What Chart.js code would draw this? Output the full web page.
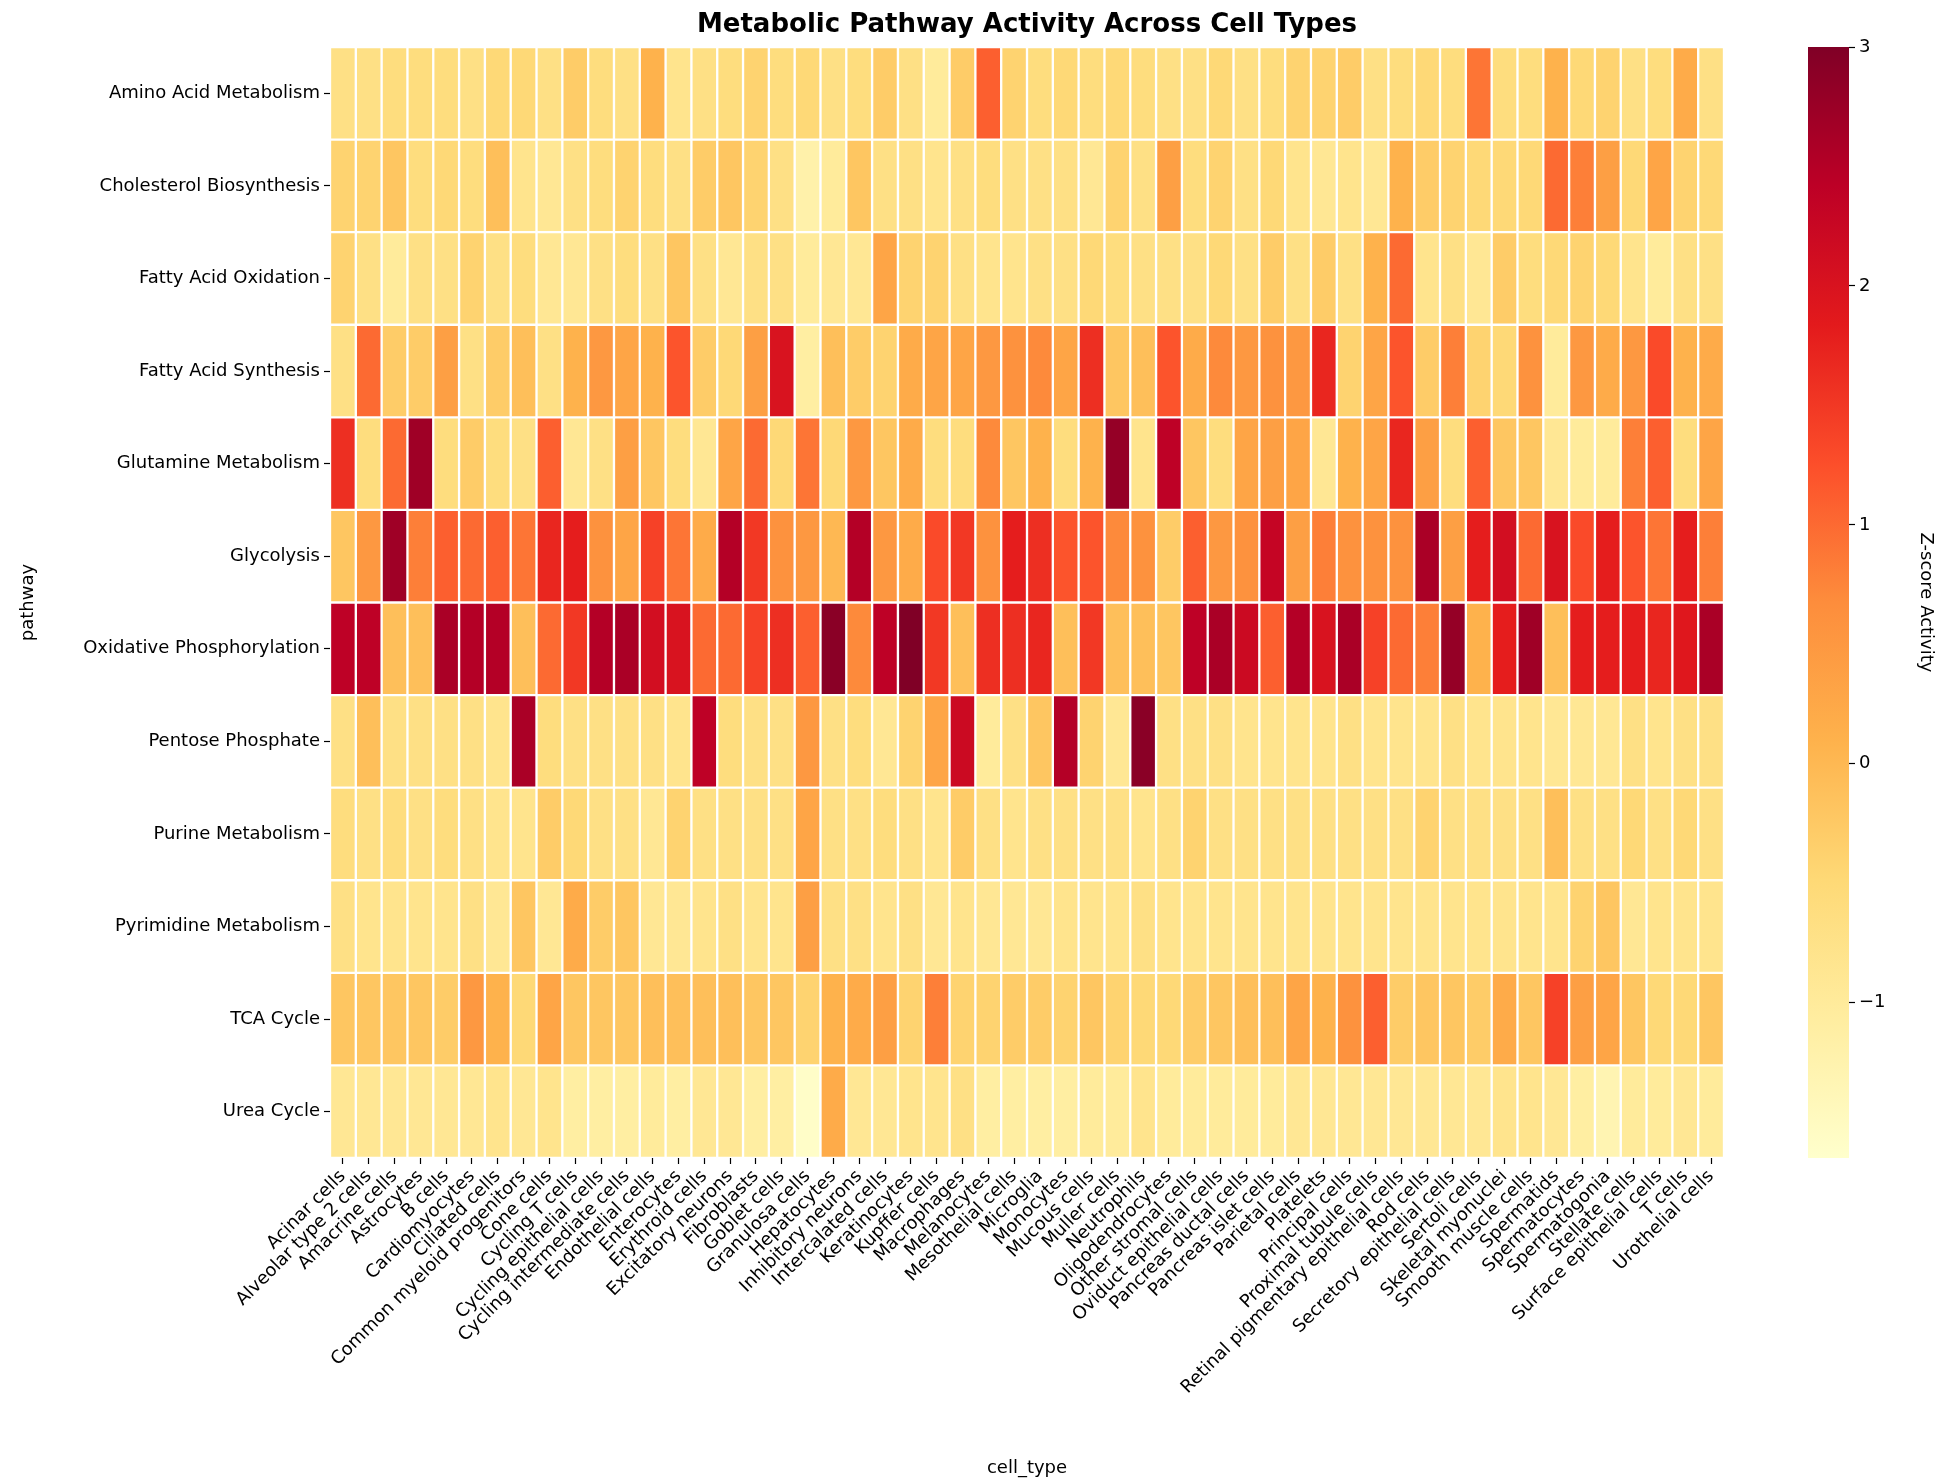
<!DOCTYPE html>
<html><head><meta charset="utf-8">
<script src="https://cdn.jsdelivr.net/npm/chart.js@4.4.0/dist/chart.umd.min.js"></script>
<style>html,body{margin:0;padding:0;background:#fff;width:1952px;height:1483px;overflow:hidden}
#c1{position:absolute;left:0;top:0}#c2{position:absolute;left:1790px;top:0}</style>
</head><body>
<canvas id="c1" width="1790" height="1483"></canvas>
<canvas id="c2" width="162" height="1483"></canvas>
<script>
const cellTypes=["Acinar cells","Alveolar type 2 cells","Amacrine cells","Astrocytes","B cells","Cardiomyocytes","Ciliated cells","Common myeloid progenitors","Cone cells","Cycling T cells","Cycling epithelial cells","Cycling intermediate cells","Endothelial cells","Enterocytes","Erythroid cells","Excitatory neurons","Fibroblasts","Goblet cells","Granulosa cells","Hepatocytes","Inhibitory neurons","Intercalated cells","Keratinocytes","Kupffer cells","Macrophages","Melanocytes","Mesothelial cells","Microglia","Monocytes","Mucous cells","Muller cells","Neutrophils","Oligodendrocytes","Other stromal cells","Oviduct epithelial cells","Pancreas ductal cells","Pancreas islet cells","Parietal cells","Platelets","Principal cells","Proximal tubule cells","Retinal pigmentary epithelial cells","Rod cells","Secretory epithelial cells","Sertoli cells","Skeletal myonuclei","Smooth muscle cells","Spermatids","Spermatocytes","Spermatogonia","Stellate cells","Surface epithelial cells","T cells","Urothelial cells"];
const pathways=["Amino Acid Metabolism","Cholesterol Biosynthesis","Fatty Acid Oxidation","Fatty Acid Synthesis","Glutamine Metabolism","Glycolysis","Oxidative Phosphorylation","Pentose Phosphate","Purine Metabolism","Pyrimidine Metabolism","TCA Cycle","Urea Cycle"];
const aminoAcid=[-0.7,-0.7,-0.6,-0.6,-0.6,-0.7,-0.5,-0.5,-0.7,-0.3,-0.6,-0.7,0.1,-0.8,-0.7,-0.6,-0.4,-0.6,-0.5,-0.7,-0.6,-0.3,-0.7,-1.0,-0.3,1.1,-0.4,-0.6,-0.5,-0.6,-0.5,-0.6,-0.7,-0.7,-0.5,-0.7,-0.6,-0.4,-0.4,-0.3,-0.7,-0.6,-0.5,-0.6,0.9,-0.6,-0.6,0.1,-0.5,-0.4,-0.7,-0.6,0.2,-0.7];
const cholesterol=[-0.4,-0.4,-0.2,-0.6,-0.5,-0.6,-0.1,-0.8,-0.9,-0.7,-0.6,-0.4,-0.6,-0.7,-0.3,-0.2,-0.4,-0.7,-1.2,-1.0,-0.2,-0.7,-0.7,-0.8,-0.7,-0.6,-0.7,-0.7,-0.7,-0.9,-0.4,-0.7,0.4,-0.6,-0.4,-0.7,-0.5,-0.8,-0.9,-0.8,-0.9,0.1,-0.3,-0.4,-0.5,-0.5,-0.5,1.0,0.8,0.4,-0.5,0.3,-0.4,-0.5];
const fattyOx=[-0.4,-0.7,-1.0,-0.7,-0.7,-0.4,-0.7,-0.6,-0.9,-0.9,-0.7,-0.6,-0.7,-0.2,-0.7,-0.9,-0.7,-0.7,-1.0,-0.9,-0.9,0.3,-0.4,-0.4,-0.7,-0.8,-0.8,-0.7,-0.7,-0.5,-0.6,-0.7,-0.7,-0.7,-0.5,-0.7,-0.3,-0.7,-0.3,-0.7,0.1,1.0,-0.8,-0.7,-0.9,-0.3,-0.6,-0.5,-0.4,-0.5,-0.8,-1.0,-0.7,-0.7];
const fattySyn=[-0.7,1.0,-0.3,-0.3,0.4,-0.7,-0.3,-0.1,-0.7,0.1,0.5,0.3,0.1,1.2,-0.3,-0.5,0.4,2.0,-1.1,-0.1,-0.3,-0.4,0.2,0.3,0.3,0.5,0.6,0.7,0.3,1.6,-0.2,-0.1,1.2,0.2,0.7,0.5,0.6,0.5,1.7,-0.4,0.3,1.2,-0.3,0.8,-0.4,-0.5,0.6,-1.0,0.5,0.2,0.5,1.3,0.1,0.2];
const glutamine=[1.6,-0.6,1.0,2.7,-0.6,-0.3,-0.6,-0.7,1.1,-0.9,-0.7,0.4,-0.2,-0.6,-0.9,0.3,1.0,-0.5,0.9,-0.5,0.5,-0.2,0.2,-0.6,-0.6,0.7,-0.2,0.1,-0.6,0.1,2.8,-0.8,2.4,-0.2,-0.6,0.3,0.4,0.3,-0.9,0.1,0.3,1.7,0.4,-0.6,1.1,-0.2,-0.2,-0.9,-1.0,-1.0,0.8,1.1,-0.6,0.3];
const glycolysis=[-0.2,0.5,2.7,0.8,1.1,1.0,1.1,0.9,1.7,1.8,0.6,0.3,1.4,0.9,0.2,2.5,1.5,0.6,0.5,0.0,2.5,0.5,0.2,1.3,1.5,0.6,1.8,1.6,1.2,1.2,0.7,0.6,-0.3,1.1,0.5,0.6,2.3,0.4,0.8,0.6,0.6,0.6,2.6,0.4,1.8,2.1,1.0,2.0,1.3,1.8,1.2,0.9,1.8,0.8];
const oxphos=[2.4,2.4,-0.1,-0.1,2.6,2.5,2.5,-0.1,1.0,1.5,2.5,2.6,2.1,2.0,1.0,1.0,1.4,1.6,1.1,2.9,0.7,2.4,3.0,1.5,-0.1,1.6,1.6,1.7,-0.1,1.5,-0.1,-0.1,-0.2,2.4,2.6,2.2,1.1,2.5,2.0,2.6,1.4,1.0,0.8,2.8,0.1,1.8,2.7,-0.1,1.8,1.8,1.8,1.7,1.9,2.6];
const pentose=[-0.7,-0.1,-0.7,-0.7,-0.7,-0.7,-0.8,2.6,-0.6,-0.7,-0.7,-0.7,-0.7,-0.8,2.4,-0.6,-0.7,-0.7,0.5,-0.7,-0.6,-0.9,-0.4,0.3,2.2,-1.0,-0.7,-0.2,2.5,-0.4,-0.9,2.9,-0.7,-0.7,-0.7,-0.8,-0.8,-0.8,-0.8,-0.7,-0.8,-0.8,-0.8,-0.7,-0.8,-0.8,-0.8,-0.9,-0.9,-0.9,-0.7,-0.8,-0.7,-0.7];
const purine=[-0.6,-0.7,-0.6,-0.7,-0.6,-0.7,-0.8,-0.8,-0.3,-0.5,-0.7,-0.7,-0.9,-0.4,-0.7,-0.7,-0.7,-0.7,0.3,-0.7,-0.7,-0.6,-0.7,-0.8,-0.3,-0.7,-0.8,-0.7,-0.7,-0.7,-0.7,-0.8,-0.7,-0.4,-0.7,-0.7,-0.7,-0.7,-0.7,-0.7,-0.7,-0.7,-0.4,-0.7,-0.7,-0.7,-0.7,-0.1,-0.7,-0.7,-0.5,-0.7,-0.5,-0.7];
const pyrimidine=[-0.7,-0.8,-0.8,-0.8,-0.8,-0.7,-0.9,-0.2,-0.9,0.2,-0.3,-0.2,-0.9,-0.9,-0.8,-0.7,-0.8,-0.8,0.4,-0.7,-0.7,-0.8,-0.7,-0.9,-0.8,-0.9,-0.9,-0.9,-0.8,-0.8,-0.8,-0.7,-0.8,-0.8,-0.8,-0.8,-0.8,-0.8,-0.8,-0.8,-0.8,-0.8,-0.8,-0.8,-0.8,-0.8,-0.8,-0.8,-0.4,-0.2,-0.9,-0.8,-0.8,-0.8];
const tca=[-0.2,-0.2,-0.2,-0.2,-0.3,0.5,0.1,-0.5,0.3,-0.2,-0.2,-0.2,-0.1,-0.1,-0.1,-0.1,-0.2,-0.2,-0.4,0.1,0.2,0.4,-0.4,0.8,-0.4,-0.4,-0.3,-0.3,-0.4,-0.2,-0.4,-0.5,-0.5,-0.3,-0.2,-0.1,-0.1,0.3,0.1,0.6,1.1,-0.3,-0.2,-0.2,-0.3,0.2,-0.2,1.4,0.4,0.3,-0.2,-0.5,-0.5,-0.2];
const urea=[-0.9,-0.9,-0.9,-0.9,-0.9,-0.9,-0.8,-0.9,-0.8,-1.1,-1.1,-1.1,-1.0,-1.1,-0.9,-0.9,-1.1,-1.1,-1.6,0.2,-0.9,-0.9,-0.8,-0.8,-0.7,-1.1,-1.1,-1.1,-1.1,-1.0,-1.0,-0.8,-1.0,-1.0,-1.0,-1.0,-1.0,-0.9,-0.9,-0.9,-0.9,-0.9,-0.9,-0.9,-0.9,-0.8,-0.8,-0.9,-1.1,-1.3,-1.0,-1.0,-0.9,-1.0];
const rows=[aminoAcid,cholesterol,fattyOx,fattySyn,glutamine,glycolysis,oxphos,pentose,purine,pyrimidine,tca,urea];
const VMIN=-1.65,VMAX=3;
const stops=["#ffffcc","#ffeda0","#fed976","#feb24c","#fd8d3c","#fc4e2a","#e31a1c","#bd0026","#800026"];
function hex(h){return [1,3,5].map(i=>parseInt(h.substr(i,2),16));}
function cmap(v){let t=Math.max(0,Math.min(1,(v-VMIN)/(VMAX-VMIN)))*(stops.length-1);let i=Math.min(Math.floor(t),stops.length-2),f=t-i;const a=hex(stops[i]),b=hex(stops[i+1]);return `rgb(${a.map((x,k)=>Math.round(x+(b[k]-x)*f)).join(',')})`;}
const F="'DejaVu Sans', sans-serif";
Chart.defaults.font.family=F;Chart.defaults.color='#000';
const datasets=rows.map((vals,r)=>({label:pathways[r],data:vals.map(()=>[r,r+1]),backgroundColor:vals.map(cmap),borderColor:'#fff',borderWidth:1.5,borderSkipped:false,grouped:false,categoryPercentage:1,barPercentage:1}));
const titlePlugin={id:'tt',afterDraw(c){const x=c.ctx;x.save();x.font="bold 26px "+F;x.fillStyle='#000';x.textAlign='center';x.textBaseline='middle';x.fillText('Metabolic Pathway Activity Across Cell Types',(c.chartArea.left+c.chartArea.right)/2,25);x.restore();}};
const tickGrid={display:true,drawOnChartArea:false,color:'#000',tickLength:6,tickWidth:1.2};
new Chart(document.getElementById('c1'),{type:'bar',data:{labels:cellTypes,datasets},plugins:[titlePlugin],
options:{responsive:false,animation:false,devicePixelRatio:1,layout:{padding:{top:47,right:66,left:14,bottom:0}},
plugins:{legend:{display:false},tooltip:{enabled:false}},
scales:{x:{type:'category',offset:true,grid:Object.assign({offset:false},tickGrid),border:{display:false},
ticks:{minRotation:45,maxRotation:45,autoSkip:false,font:{size:18},padding:2},
title:{display:true,text:'cell_type',font:{size:18},padding:{top:0}},
afterFit(s){s.height=325;}},
y:{type:'linear',min:0,max:12,reverse:true,grid:tickGrid,border:{display:false},
afterBuildTicks(s){s.ticks=pathways.map((p,i)=>({value:i+0.5}));},
ticks:{font:{size:18},callback:(v)=>pathways[Math.floor(v)],padding:4},
title:{display:true,text:'pathway',font:{size:18}},afterFit(s){s.width=316;}}}}});
new Chart(document.getElementById('c2'),{type:'bar',data:{labels:['cb'],datasets:[{data:[[VMIN,VMAX]],categoryPercentage:1,barPercentage:1,borderWidth:0,
backgroundColor(ctx){const ca=ctx.chart.chartArea;if(!ca)return '#feb24c';const g=ctx.chart.ctx.createLinearGradient(0,ca.bottom,0,ca.top);stops.forEach((s,i)=>g.addColorStop(i/(stops.length-1),s));return g;}}]},
options:{responsive:false,animation:false,devicePixelRatio:1,layout:{padding:{top:47,left:18,right:12,bottom:0}},
plugins:{legend:{display:false},tooltip:{enabled:false}},
scales:{x:{display:false,afterFit(s){s.height=325;}},y:{position:'right',min:VMIN,max:VMAX,grid:tickGrid,border:{display:false},
afterBuildTicks(s){s.ticks=[-1,0,1,2,3].map(v=>({value:v}));},
ticks:{font:{size:18},padding:4,callback:v=>v<0?'\u2212'+Math.abs(v):String(v)},
title:{display:true,text:'Z-score Activity',font:{size:18}},afterFit(s){s.width=91;}}}}});
</script></body></html>
